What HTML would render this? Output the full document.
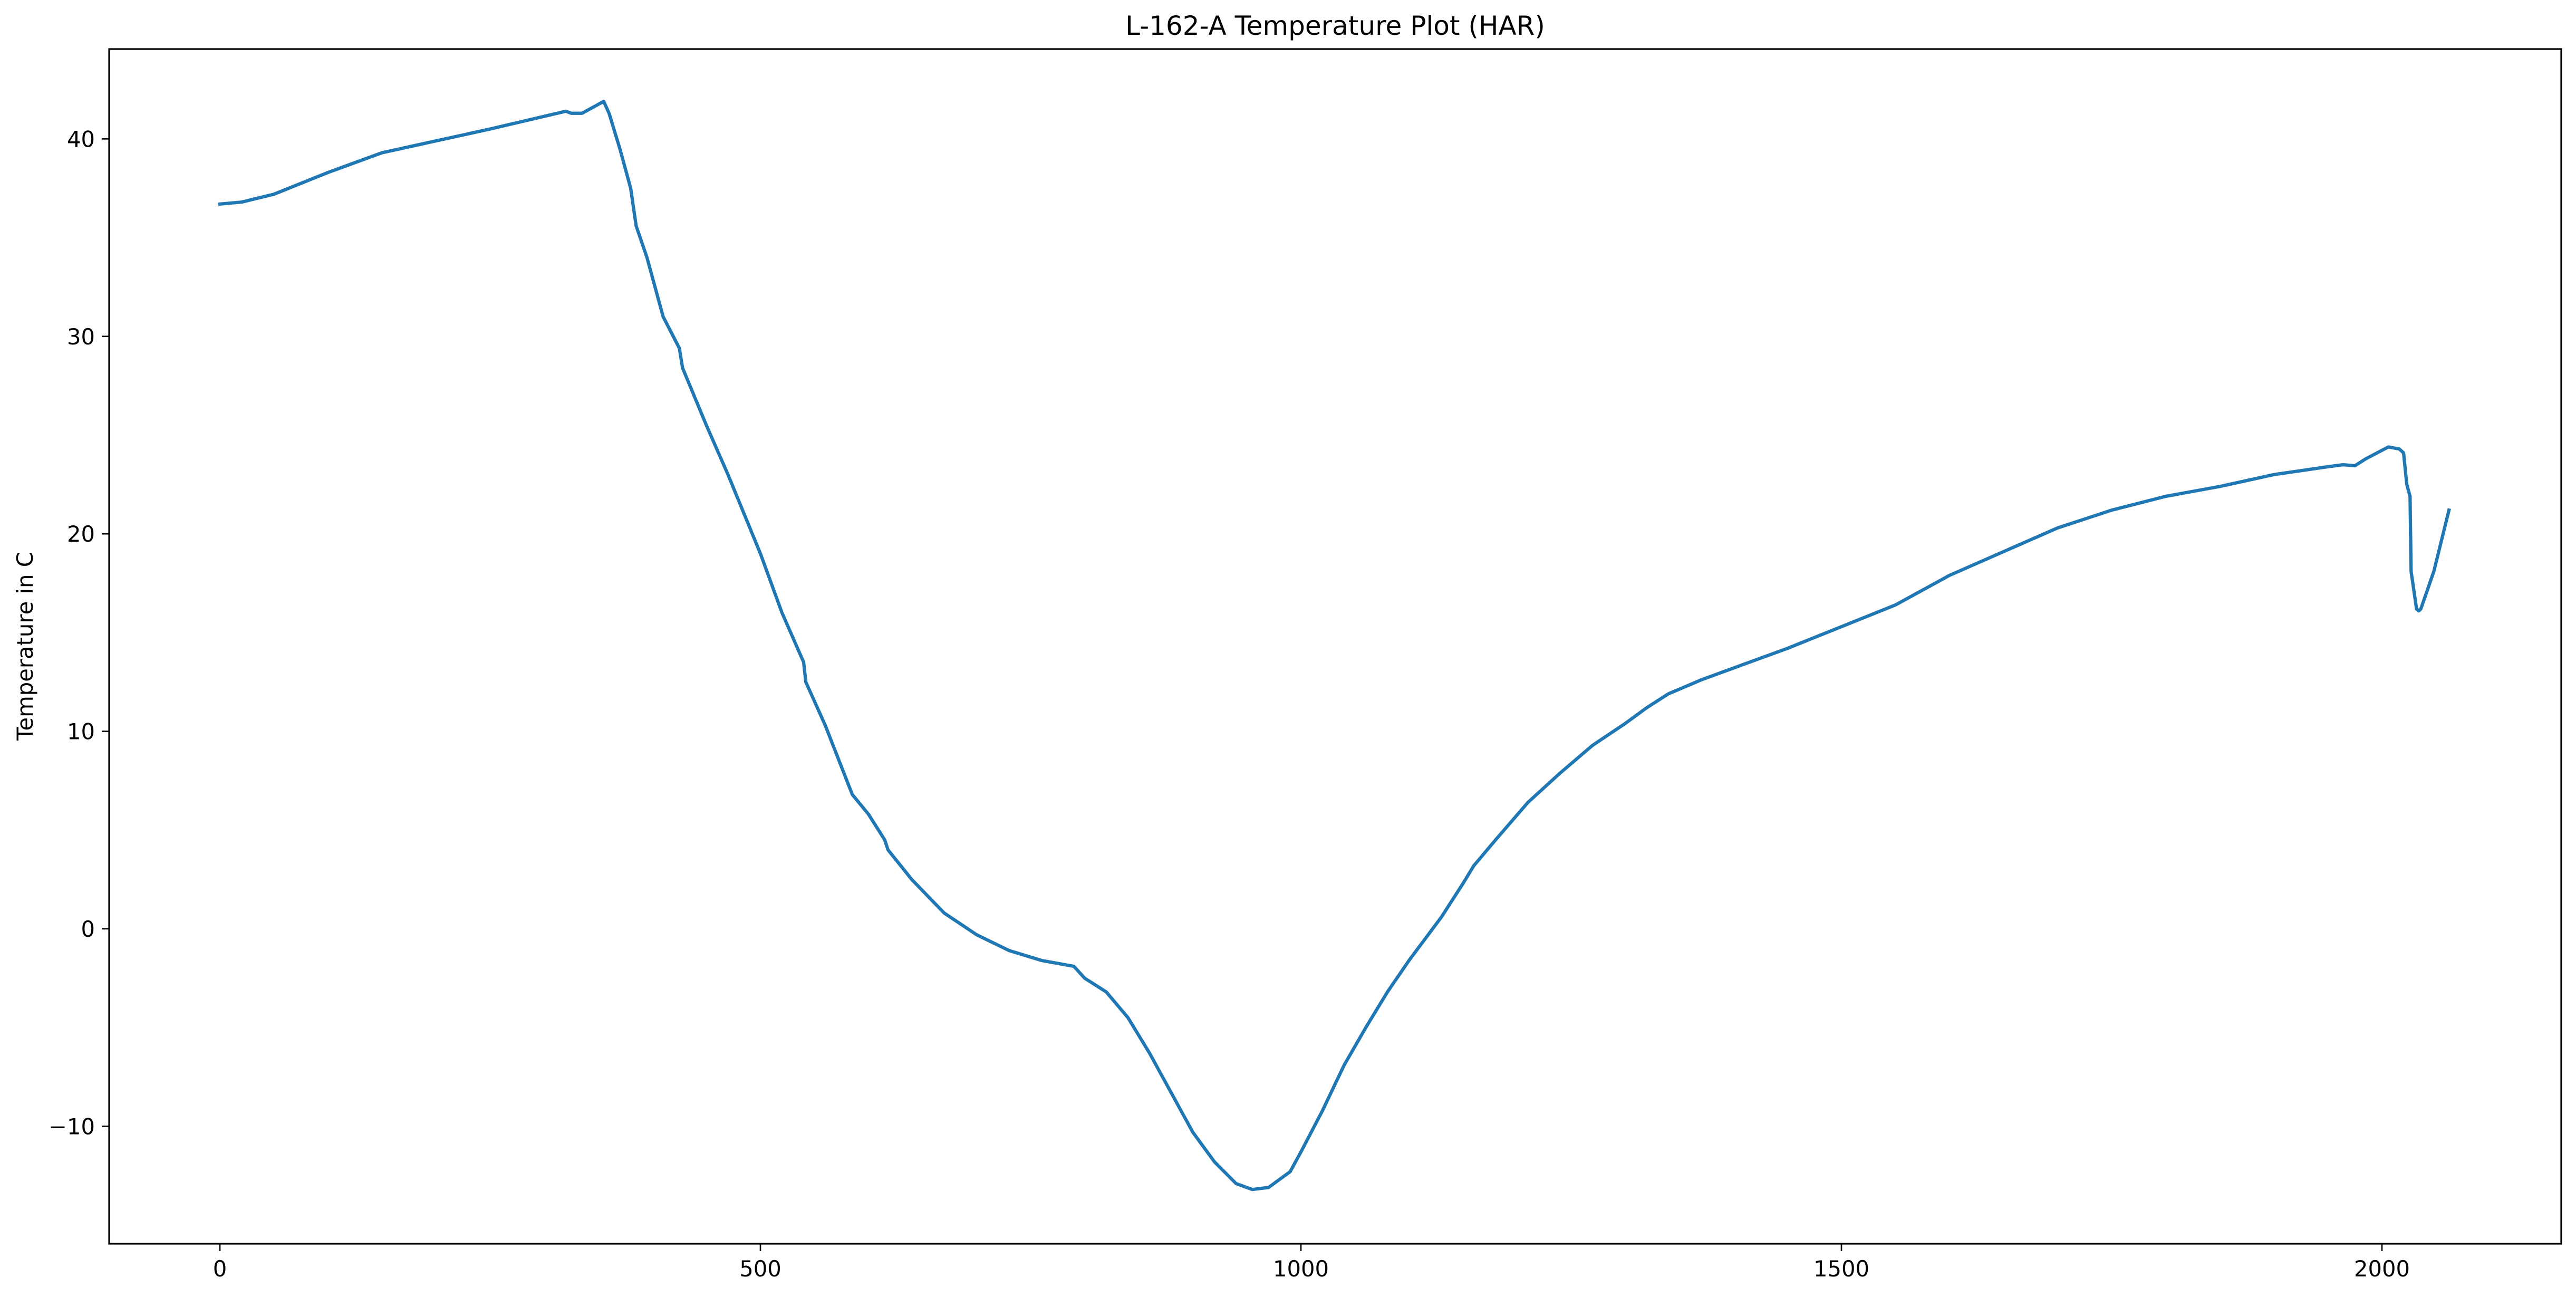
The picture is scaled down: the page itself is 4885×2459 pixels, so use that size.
<!DOCTYPE html>
<html><head><meta charset="utf-8"><style>
html,body{margin:0;padding:0;background:#fff;}
svg{display:block;font-family:"DejaVu Sans","Liberation Sans",sans-serif;}
</style></head><body>
<svg id="chart" width="4885" height="2459" viewBox="0 0 4885 2459">
<rect width="4885" height="2459" fill="#fff"/>
<text x="2532" y="66" font-size="50" text-anchor="middle">L-162-A Temperature Plot (HAR)</text>
<text transform="translate(62,1225) rotate(-90)" font-size="41.7" text-anchor="middle">Temperature in C</text>
<g id="xticks"></g>
<g id="yticks"></g>
<path id="line" fill="none" stroke="#1f77b4" stroke-width="6.25" stroke-linejoin="round" stroke-linecap="square"/>
<rect x="207" y="93" width="4650" height="2265" fill="none" stroke="#000" stroke-width="3.2"/>
</svg>
<script>
const xs=[0,20,50,100,150,200,250,320,325,335,355,360,370,380,385,395,410,425,428,450,470,500,520,540,542,560,580,585,600,615,618,640,670,700,730,760,790,800,820,840,860,880,900,920,940,955,970,990,1000,1020,1040,1060,1080,1100,1130,1150,1160,1180,1210,1240,1270,1300,1320,1340,1370,1400,1450,1500,1550,1600,1650,1700,1750,1800,1850,1900,1950,1964,1975,1985,2006,2016,2020,2023,2026,2027,2032,2034,2036,2048,2062];
const temps=[36.7,36.8,37.2,38.3,39.3,39.9,40.5,41.4,41.3,41.3,41.9,41.3,39.5,37.5,35.6,34,31,29.4,28.4,25.5,23,19,16,13.5,12.5,10.3,7.5,6.8,5.8,4.5,4,2.5,0.8,-0.3,-1.1,-1.6,-1.9,-2.5,-3.2,-4.5,-6.3,-8.3,-10.3,-11.8,-12.9,-13.2,-13.1,-12.3,-11.3,-9.2,-6.9,-5,-3.2,-1.6,0.6,2.3,3.2,4.5,6.4,7.9,9.3,10.4,11.2,11.9,12.6,13.2,14.2,15.3,16.4,17.9,19.1,20.3,21.2,21.9,22.4,23.0,23.4,23.5,23.45,23.8,24.4,24.3,24.1,22.5,21.9,18.1,16.2,16.1,16.2,18.1,21.2];
const xTicks=[0,500,1000,1500,2000];
const yTicks=[-10,0,10,20,30,40];
const X=v=>417+v*2.05;
const Y=v=>93+(44.55-v)*37.44;
const NS="http://www.w3.org/2000/svg";
const line=document.getElementById('line');
line.setAttribute('d',xs.map((x,i)=>(i?'L':'M')+X(x).toFixed(1)+','+Y(temps[i]).toFixed(1)).join(''));
const gx=document.getElementById('xticks'),gy=document.getElementById('yticks');
xTicks.forEach(t=>{
  const l=document.createElementNS(NS,'line');
  l.setAttribute('x1',X(t));l.setAttribute('x2',X(t));l.setAttribute('y1',2358);l.setAttribute('y2',2372);
  l.setAttribute('stroke','#000');l.setAttribute('stroke-width','2.6');
  
  
  gx.appendChild(l);
  const tx=document.createElementNS(NS,'text');
  tx.setAttribute('x',X(t));tx.setAttribute('y',2420);tx.setAttribute('font-size','41.7');tx.setAttribute('text-anchor','middle');
  tx.textContent=t;
  
  
  gx.appendChild(tx);
});
yTicks.forEach(t=>{
  const l=document.createElementNS(NS,'line');
  l.setAttribute('x1',193);l.setAttribute('x2',207);l.setAttribute('y1',Y(t));l.setAttribute('y2',Y(t));
  l.setAttribute('stroke','#000');l.setAttribute('stroke-width','2.6');
  
  
  gy.appendChild(l);
  const tx=document.createElementNS(NS,'text');
  tx.setAttribute('x',180);tx.setAttribute('y',Y(t)+15);tx.setAttribute('font-size','41.7');tx.setAttribute('text-anchor','end');
  tx.textContent=t<0?'\u2212'+Math.abs(t):t;
  
  
  gy.appendChild(tx);
});
</script>
</body></html>
